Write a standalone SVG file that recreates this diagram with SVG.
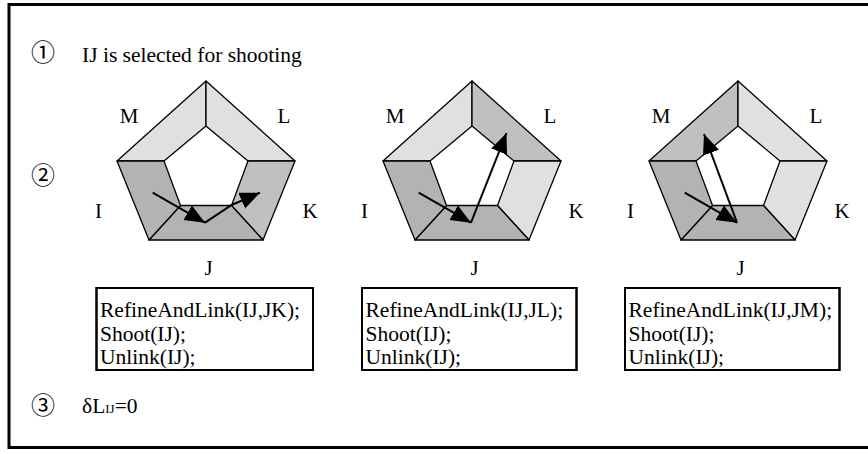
<svg xmlns="http://www.w3.org/2000/svg" width="868" height="454" viewBox="0 0 868 454">
<style>
.t{font-family:"Liberation Serif","Times New Roman",serif;font-size:21.5px;fill:#000}
.lb{font-family:"Liberation Serif","Times New Roman",serif;font-size:21px;fill:#000;text-anchor:middle}
.num{font-family:"Noto Sans CJK JP","DejaVu Sans",sans-serif;font-size:24px;fill:#000}
.seg{stroke:#000;stroke-width:1.3;stroke-linejoin:round}
.lt{fill:#e0e0e0}.md{fill:#c0c0c0}.dk{fill:#b3b3b3}
.box{fill:#fff;stroke:#000;stroke-width:2}
.arr{fill:none;stroke:#000;stroke-width:2;marker-end:url(#ah)}
</style>
<defs>
<marker id="ah" markerUnits="userSpaceOnUse" markerWidth="22" markerHeight="18" refX="20" refY="8.5" orient="auto">
<path d="M0,0 L20,8.5 L0,17 z" fill="#000"/>
</marker>
<clipPath id="c1"><rect x="96.5" y="288" width="216.5" height="82"/></clipPath>
<clipPath id="c2"><rect x="362" y="288" width="214.5" height="82"/></clipPath>
<clipPath id="c3"><rect x="625" y="288" width="214.5" height="82"/></clipPath>
</defs>
<rect x="9" y="4.5" width="880" height="443" fill="#fff" stroke="#000" stroke-width="3"/>
<text class="num" x="31" y="61">①</text>
<text class="t" x="82" y="62">IJ is selected for shooting</text>
<text class="num" x="31" y="184">②</text>
<text class="num" x="31" y="414">③</text>
<text class="t" x="82" y="413">δL<tspan font-size="13px">IJ</tspan>=0</text>

<g id="pentagon1">
<polygon class="seg lt" points="117,161 206,81 206,126 164,161"/>
<polygon class="seg lt" points="206,81 295,161 248,161 206,126"/>
<polygon class="seg md" points="295,161 263,240 231.5,205.5 248,161"/>
<polygon class="seg dk" points="263,240 149,240 180.5,205.5 231.5,205.5"/>
<polygon class="seg dk" points="149,240 117,161 164,161 180.5,205.5"/>
<text class="lb" x="129" y="123">M</text>
<text class="lb" x="284" y="123">L</text>
<text class="lb" x="98.5" y="218">I</text>
<text class="lb" x="310" y="218">K</text>
<text class="lb" x="208.5" y="275">J</text>
</g>
<g id="pentagon2" transform="translate(266,0)">
<polygon class="seg lt" points="117,161 206,81 206,126 164,161"/>
<polygon class="seg md" points="206,81 295,161 248,161 206,126"/>
<polygon class="seg lt" points="295,161 263,240 231.5,205.5 248,161"/>
<polygon class="seg dk" points="263,240 149,240 180.5,205.5 231.5,205.5"/>
<polygon class="seg dk" points="149,240 117,161 164,161 180.5,205.5"/>
<text class="lb" x="129" y="123">M</text>
<text class="lb" x="284" y="123">L</text>
<text class="lb" x="98.5" y="218">I</text>
<text class="lb" x="310" y="218">K</text>
<text class="lb" x="208.5" y="275">J</text>
</g>
<g id="pentagon3" transform="translate(532,0)">
<polygon class="seg md" points="117,161 206,81 206,126 164,161"/>
<polygon class="seg lt" points="206,81 295,161 248,161 206,126"/>
<polygon class="seg lt" points="295,161 263,240 231.5,205.5 248,161"/>
<polygon class="seg dk" points="263,240 149,240 180.5,205.5 231.5,205.5"/>
<polygon class="seg dk" points="149,240 117,161 164,161 180.5,205.5"/>
<text class="lb" x="129" y="123">M</text>
<text class="lb" x="284" y="123">L</text>
<text class="lb" x="98.5" y="218">I</text>
<text class="lb" x="310" y="218">K</text>
<text class="lb" x="208.5" y="275">J</text>
</g>

<g id="connectors">
<path class="arr" d="M152.7,192.7 L205,222.7"/>
<path class="arr" d="M205,222.7 L231.7,205 L260,192.7"/>
<path class="arr" d="M418.7,192.7 L471,222.7"/>
<path class="arr" d="M471,222.7 L506.5,133"/>
<path class="arr" d="M684.7,192.7 L737,222.7"/>
<path class="arr" d="M737,222.7 L704,134"/>
</g>

<g id="box1">
<rect class="box" x="96.5" y="288" width="216.5" height="82"/>
<g clip-path="url(#c1)">
<text class="t" x="100" y="317">RefineAndLink(IJ,JK);</text>
<text class="t" x="100" y="340.5">Shoot(IJ);</text>
<text class="t" x="100" y="364">Unlink(IJ);</text>
</g>
<rect x="96.5" y="288" width="216.5" height="82" fill="none" stroke="#000" stroke-width="2"/>
</g>
<g id="box2">
<rect class="box" x="362" y="288" width="214.5" height="82"/>
<g clip-path="url(#c2)">
<text class="t" x="365.5" y="317">RefineAndLink(IJ,JL);</text>
<text class="t" x="365.5" y="340.5">Shoot(IJ);</text>
<text class="t" x="365.5" y="364">Unlink(IJ);</text>
</g>
<rect x="362" y="288" width="214.5" height="82" fill="none" stroke="#000" stroke-width="2"/>
</g>
<g id="box3">
<rect class="box" x="625" y="288" width="214.5" height="82"/>
<g clip-path="url(#c3)">
<text class="t" x="628.5" y="317">RefineAndLink(IJ,JM);</text>
<text class="t" x="628.5" y="340.5">Shoot(IJ);</text>
<text class="t" x="628.5" y="364">Unlink(IJ);</text>
</g>
<rect x="625" y="288" width="214.5" height="82" fill="none" stroke="#000" stroke-width="2"/>
</g>
</svg>
